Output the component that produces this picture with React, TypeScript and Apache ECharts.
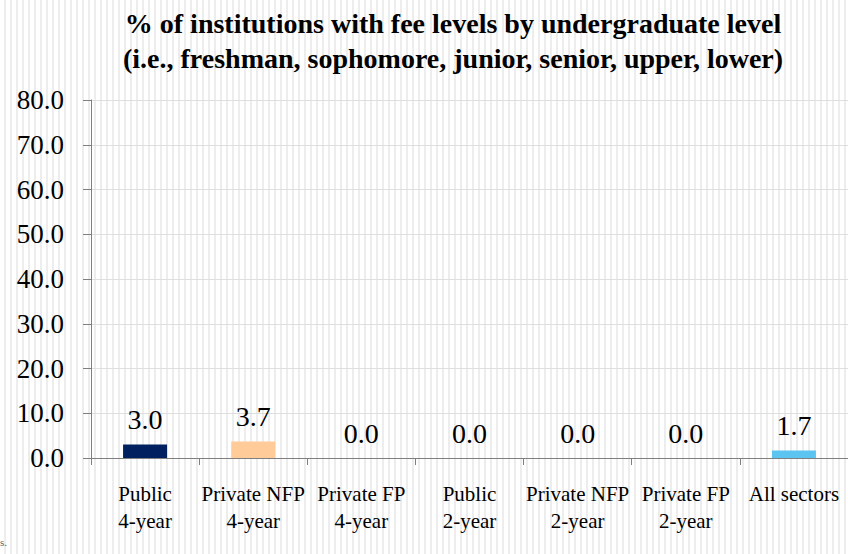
import React, { useEffect, useRef } from "react";
import * as echarts from "echarts";

const categories = [
  "Public\n4-year",
  "Private NFP\n4-year",
  "Private FP\n4-year",
  "Public\n2-year",
  "Private NFP\n2-year",
  "Private FP\n2-year",
  "All sectors",
];
const values = [3.0, 3.7, 0.0, 0.0, 0.0, 0.0, 1.7];
const barColors = ["#002060", "#FFCC99", "#FFCC99", "#FFCC99", "#FFCC99", "#FFCC99", "#5BC4F1"];
const titleLines = [
  "% of institutions with fee levels by undergraduate level",
  "(i.e., freshman, sophomore, junior, senior, upper, lower)",
];
const serif = "Liberation Serif";

export default function App() {
  const ref = useRef<HTMLDivElement>(null);
  useEffect(() => {
    if (!ref.current) return;
    const chart = echarts.init(ref.current, undefined, { renderer: "svg" });
    chart.setOption({
      animation: false,
      backgroundColor: "transparent",
      textStyle: { fontFamily: serif },
      title: {
        text: titleLines.join("\n"),
        left: 448,
        textAlign: "center",
        top: 1,
        textStyle: {
          fontFamily: serif,
          fontWeight: "bold",
          fontSize: 28,
          lineHeight: 35,
          color: "#000",
        },
      },
      grid: { left: 91, top: 100, width: 763, height: 358, containLabel: false },
      xAxis: {
        type: "category",
        data: categories,
        axisLine: { lineStyle: { color: "#7f7f7f", width: 1 } },
        axisTick: { show: true, length: 7, lineStyle: { color: "#7f7f7f" } },
        axisLabel: {
          interval: 0,
          margin: 22,
          fontFamily: serif,
          fontSize: 21,
          lineHeight: 27,
          color: "#000",
        },
        splitLine: { show: false },
      },
      yAxis: {
        type: "value",
        min: 0,
        max: 80,
        interval: 10,
        axisLine: { show: true, lineStyle: { color: "#7f7f7f", width: 1 } },
        axisTick: { show: true, length: 8, lineStyle: { color: "#7f7f7f" } },
        axisLabel: {
          margin: 27,
          fontFamily: serif,
          fontSize: 27,
          color: "#000",
          formatter: (v: number) => v.toFixed(1),
        },
        splitLine: { show: true, lineStyle: { color: "#dedede", width: 1 } },
      },
      series: [
        {
          type: "bar",
          data: values.map((v, i) => ({ value: v, itemStyle: { color: barColors[i] } })),
          barWidth: 44,
          label: {
            show: true,
            position: "top",
            distance: 11,
            fontFamily: serif,
            fontSize: 28,
            color: "#000",
            formatter: (p: any) => Number(p.value).toFixed(1),
          },
        },
      ],
      graphic: [
        {
          type: "text",
          left: 0,
          top: 536,
          style: { text: "s.", fontFamily: serif, fontSize: 11, fill: "#666" },
        },
      ],
    });
    return () => chart.dispose();
  }, []);
  return (
    <div
      style={{
        position: "fixed",
        left: 0,
        top: 0,
        width: 848,
        height: 554,
        background:
          "repeating-linear-gradient(to right, #ffffff 0px, #ffffff 4px, #ededed 4px, #ededed 6px)",
      }}
    >
      <div ref={ref} style={{ width: 848, height: 554 }} />
    </div>
  );
}
